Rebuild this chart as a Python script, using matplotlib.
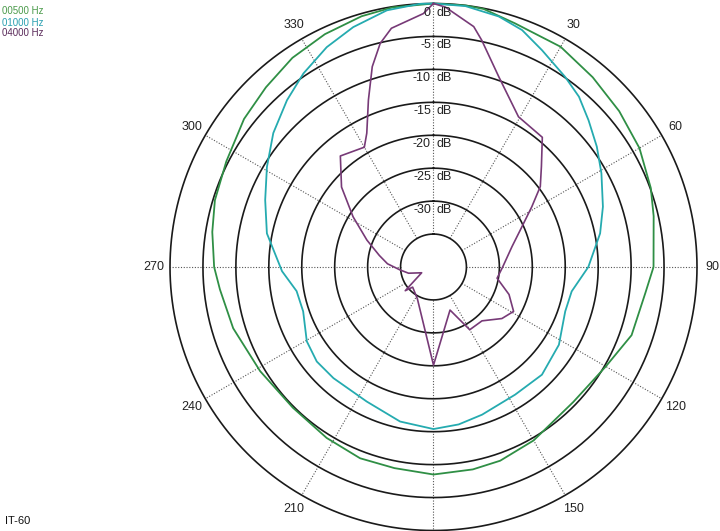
import numpy as np
import matplotlib
matplotlib.use('Agg')
import matplotlib.pyplot as plt

plt.rcParams['font.family'] = ['Liberation Sans', 'DejaVu Sans']

# polar response (degrees, dB)
ang_500 = [0, 7, 11, 18.5, 30, 40, 50, 60, 70, 77, 90, 97, 109, 120, 134, 150, 161, 169,
           180, 191, 201, 212, 225, 239, 253, 264, 270, 279, 287, 297, 308, 317, 326, 335,
           344, 351, 360]
db_500 = [0, 0, -0.1, -1.0, -1.4, -2.4, -3.2, -3.9, -4.9, -5.7, -6.6, -7.6, -8.2, -9.8, -10.5,
          -9.6, -8.9, -8.7, -8.5, -8.9, -8.9, -9.4, -9.8, -9.3, -8.2, -7.4, -6.7, -6.0, -5.3,
          -4.7, -3.5, -2.7, -1.7, -1.0, -0.4, -0.1, 0]

ang_1000 = [0, 7, 14.6, 20.5, 26.6, 34.7, 40.5, 46.6, 53.6, 60.8, 70.4, 78.6, 90, 100, 108.6,
            121.8, 134.8, 147.4, 161.8, 170.9, 180, 192.2, 206.4, 222, 231, 239.6, 251.2, 260,
            268.4, 281.4, 291.7, 301, 309.9, 318.7, 326.1, 334.1, 341.5, 349.7, 357, 360]
db_1000 = [0, -0.1, -0.7, -1.6, -3.2, -4.9, -6.0, -7.6, -9.2, -10.8, -12.7, -14.2, -16.5, -18.7,
           -18.9, -17.6, -16.8, -17.0, -16.4, -15.8, -15.4, -16.0, -17.2, -17.3, -17.2, -17.7,
           -19.1, -18.9, -17.0, -14.2, -12.5, -10.5, -8.3, -6.3, -4.6, -2.9, -1.6, -0.4, 0, 0]

ang_4000 = [0, 2.6, 9.5, 12, 19, 29.5, 40, 47, 53, 58.5, 67, 75.5, 90, 100, 110, 119, 127, 138,
            150, 159, 180, 207, 226, 230, 244, 256, 265, 274, 282, 292, 302, 311, 320, 330,
            333.5, 338.7, 343, 346.6, 350, 357.7, 360]
db_4000 = [0, -0.5, -3.0, -4.8, -9.5, -13.8, -14.3, -17.6, -19.7, -22.5, -25.7, -27.7, -29.5,
           -30.2, -27.8, -26.1, -27.0, -29.0, -29.0, -33.0, -25.1, -34.6, -35.6, -34.4, -38.0,
           -36.1, -34.9, -33.0, -31.6, -29.1, -25.6, -21.5, -18.0, -19.0, -17.3, -12.8, -8.2,
           -5.1, -3.2, -1.5, 0]

rings = [0, -5, -10, -15, -20, -25, -30, -35]
ring_labels = ['0', '-5', '-10', '-15', '-20', '-25', '-30']
spokes = list(range(0, 360, 30))

fig = plt.figure(figsize=(7.2, 5.31), dpi=100)
ax = fig.add_axes([170 / 720, 0.5 / 531, 527 / 720, 527 / 531], projection='polar')
ax.set_theta_zero_location('N')
ax.set_theta_direction(-1)
ax.set_ylim(-40, 0)
ax.grid(False)
ax.set_xticks([])
ax.set_yticks([])
ax.spines['polar'].set_visible(False)
ax.patch.set_visible(False)

# rings and spokes
t = np.linspace(0, 2 * np.pi, 721)
for lv in rings:
    ax.plot(t, np.full_like(t, lv), color='#1a1a1a', lw=1.2, clip_on=False, zorder=2)
for a in spokes:
    ax.plot([np.radians(a)] * 2, [-35, 0], color='#555555', lw=0.8, ls=(0, (1, 1.5)),
            clip_on=False, zorder=1)
    if a not in (0, 180):
        ax.text(np.radians(a), 2.4, str(a), ha='center', va='center', fontsize=9,
                color='#222222', clip_on=False)

for lv, lab in zip(rings, ring_labels):
    ax.annotate(lab, xy=(0, lv), xytext=(-2.5, -9), textcoords='offset pixels',
                ha='right', va='center', fontsize=9, color='#222222', zorder=4)
    ax.annotate('dB', xy=(0, lv), xytext=(3.5, -9), textcoords='offset pixels',
                ha='left', va='center', fontsize=9, color='#222222', zorder=4)

c500, c1000, c4000 = '#2f8f45', '#25abb0', '#773a77'
ax.plot(np.radians(ang_500), db_500, color=c500, lw=1.3, zorder=3, clip_on=False)
ax.plot(np.radians(ang_1000), db_1000, color=c1000, lw=1.3, zorder=3, clip_on=False)
ax.plot(np.radians(ang_4000), db_4000, color=c4000, lw=1.2, zorder=3, clip_on=False)

fig.text(2.5 / 720, 1 - 11.5 / 531, '00500 Hz', color='#4a9a4a', fontsize=7, va='center')
fig.text(2.5 / 720, 1 - 22.5 / 531, '01000 Hz', color='#2a9fb0', fontsize=7, va='center')
fig.text(2.5 / 720, 1 - 33.5 / 531, '04000 Hz', color='#5a2a5a', fontsize=7, va='center')
fig.text(5 / 720, 1 - 521 / 531, 'IT-60', color='#111111', fontsize=8, va='center')

fig.savefig('out.png', dpi=100)
